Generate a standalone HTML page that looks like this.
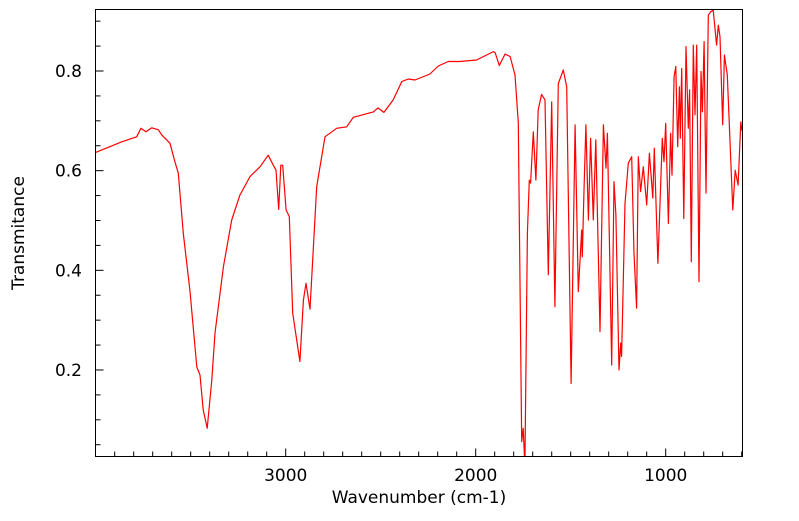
<!DOCTYPE html>
<html><head><meta charset="utf-8"><style>
body{margin:0;background:#fff;}
svg text{font-family:"DejaVu Sans","Liberation Sans",sans-serif;fill:#000;}
</style></head><body>
<svg id="chart" width="799" height="516" xmlns="http://www.w3.org/2000/svg">
<defs><clipPath id="plotclip"><rect x="95.5" y="9.5" width="647" height="447"/></clipPath></defs>
<g id="axes"></g>
<path id="spectrum" fill="none" stroke="#ff0000" stroke-width="1.2" stroke-linejoin="round" clip-path="url(#plotclip)"/>
<rect x="95.5" y="9.5" width="647" height="447" fill="none" stroke="#000" stroke-width="1"/>
<text x="419" y="503" font-size="17" text-anchor="middle">Wavenumber (cm-1)</text>
<text x="24" y="233" font-size="17" text-anchor="middle" transform="rotate(-90 24 233)">Transmitance</text>
</svg>
<script>
const wavenumbers=[4004,3925,3863,3784,3762,3735,3705,3670,3653,3609,3583,3565,3539,3504,3468,3451,3434,3413,3389,3372,3328,3284,3241,3188,3135,3092,3065,3051,3037,3026,3016,2998,2981,2963,2925,2907,2893,2872,2837,2793,2732,2679,2644,2539,2514,2483,2434,2389,2355,2320,2241,2197,2144,2083,1995,1907,1898,1876,1846,1819,1793,1776,1758,1750,1741,1728,1718,1711,1697,1683,1671,1653,1635,1618,1600,1583,1565,1539,1521,1498,1477,1460,1442,1439,1430,1420,1407,1395,1381,1368,1346,1328,1314,1307,1284,1272,1262,1246,1237,1232,1214,1197,1179,1167,1153,1144,1132,1118,1100,1086,1068,1060,1041,1018,1009,1000,986,974,967,956,947,937,928,923,916,905,893,881,874,865,855,846,837,825,814,807,798,788,776,763,750,732,723,714,700,691,676,647,634,619,605,599];
const transmittance=[0.636,0.648,0.658,0.668,0.685,0.678,0.686,0.682,0.672,0.655,0.618,0.595,0.474,0.360,0.206,0.190,0.120,0.083,0.180,0.274,0.407,0.501,0.551,0.588,0.608,0.631,0.611,0.601,0.522,0.611,0.611,0.521,0.508,0.314,0.217,0.340,0.374,0.322,0.568,0.668,0.685,0.688,0.707,0.718,0.726,0.717,0.742,0.779,0.784,0.782,0.794,0.810,0.819,0.819,0.822,0.839,0.837,0.811,0.834,0.829,0.792,0.696,0.056,0.083,0.007,0.475,0.581,0.575,0.678,0.581,0.722,0.753,0.742,0.391,0.738,0.327,0.775,0.802,0.768,0.173,0.692,0.357,0.481,0.427,0.561,0.692,0.501,0.665,0.501,0.662,0.277,0.692,0.605,0.675,0.210,0.578,0.511,0.200,0.254,0.227,0.534,0.615,0.628,0.434,0.324,0.628,0.558,0.608,0.531,0.635,0.545,0.645,0.414,0.665,0.618,0.695,0.494,0.675,0.591,0.789,0.809,0.648,0.768,0.665,0.805,0.504,0.849,0.685,0.762,0.417,0.852,0.712,0.852,0.377,0.799,0.718,0.859,0.555,0.912,0.919,0.922,0.852,0.892,0.869,0.692,0.832,0.792,0.521,0.601,0.571,0.698,0.68];
const xTickLabels=[3000,2000,1000];
const yTickLabels=[0.2,0.4,0.6,0.8];

function xScale(w){return 285.7-(w-3000)*0.19;}
function yScale(t){return 71+(0.8-t)*498.3;}

const NS="http://www.w3.org/2000/svg";
const axes=document.getElementById('axes');
function mk(tag,attrs,parent){const e=document.createElementNS(NS,tag);for(const k in attrs)e.setAttribute(k,attrs[k]);parent.appendChild(e);return e;}

// x ticks every 100
for(let w=3900;w>=600;w-=100){
  const x=xScale(w);
  const major=w%1000===0;
  const t=mk('line',{x1:x,x2:x,y1:456.5,y2:456.5-(major?8:5),stroke:'#000','stroke-width':1},axes);
  
  
}
xTickLabels.forEach(v=>{
  const t=mk('text',{x:xScale(v),y:481,'font-size':17,'text-anchor':'middle'},axes);
  t.textContent=String(v);
  
  
});
for(let i=1;i<=18;i++){
  const v=i*0.05;
  const y=yScale(v);
  if(y<10||y>456)continue;
  const major=(i%4===0);
  const t=mk('line',{x1:95.5,x2:95.5+(major?8:5),y1:y,y2:y,stroke:'#000','stroke-width':1},axes);
  
  
}
yTickLabels.forEach(v=>{
  const t=mk('text',{x:82,y:yScale(v)+6,'font-size':17,'text-anchor':'end'},axes);
  t.textContent=v.toFixed(1);
  
  
});

let d='';
wavenumbers.forEach((w,i)=>{d+=(i?'L':'M')+xScale(w).toFixed(1)+' '+yScale(transmittance[i]).toFixed(1);});
document.getElementById('spectrum').setAttribute('d',d);
</script>
</body></html>
